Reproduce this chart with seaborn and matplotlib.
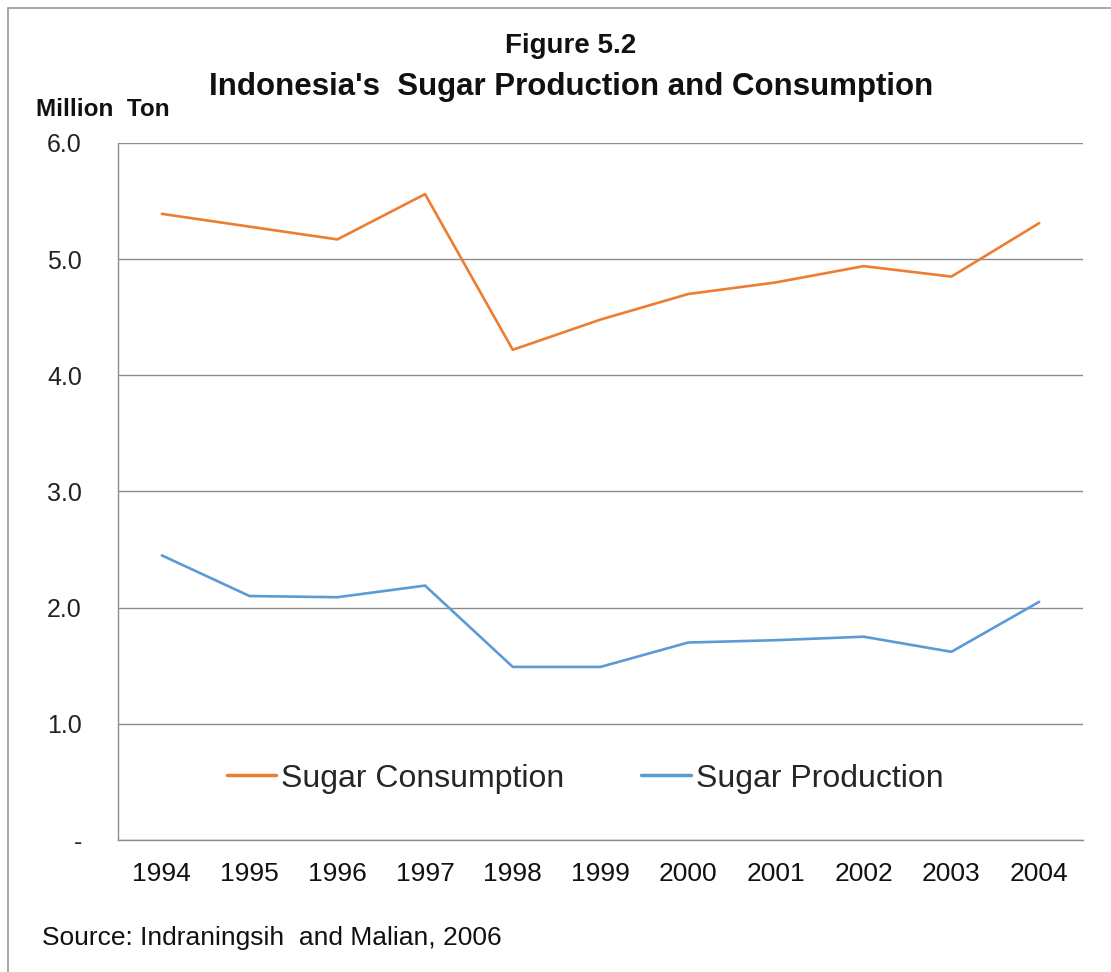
import pandas as pd
import numpy as np
import matplotlib
matplotlib.use("Agg")
import matplotlib.pyplot as plt
from matplotlib.lines import Line2D
import seaborn as sns

# =========================
# DATA
# =========================
years = ["1994", "1995", "1996", "1997", "1998", "1999",
         "2000", "2001", "2002", "2003", "2004"]
consumption = [5.39, 5.28, 5.17, 5.56, 4.22, 4.48, 4.70, 4.80, 4.94, 4.85, 5.31]
production = [2.45, 2.10, 2.09, 2.19, 1.49, 1.49, 1.70, 1.72, 1.75, 1.62, 2.05]
y_ticks = [0, 1, 2, 3, 4, 5, 6]
y_labels = ["-", "1.0", "2.0", "3.0", "4.0", "5.0", "6.0"]

df = pd.DataFrame({
    "pos": list(range(len(years))) * 2,
    "value": consumption + production,
    "series": ["Sugar Consumption"] * len(years) + ["Sugar Production"] * len(years),
})

# =========================
# STYLE
# =========================
sns.set_style("white")
plt.rcParams["font.family"] = ["Liberation Sans", "DejaVu Sans"]

fig = plt.figure(figsize=(11.11, 9.72), dpi=100)
ax = fig.add_axes([118 / 1111, 1 - 840 / 972, (1083 - 118) / 1111, (840 - 143) / 972])

sns.lineplot(
    data=df,
    x="pos",
    y="value",
    hue="series",
    palette={"Sugar Consumption": "#ED7D31", "Sugar Production": "#5B9BD5"},
    linewidth=1.9,
    ax=ax,
)

# =========================
# AXES
# =========================
grid_c = "#8c8c8c"
ax.set_xlim(-0.5, len(years) - 0.5)
ax.set_ylim(0, 6)
ax.set_yticks(y_ticks)
ax.set_yticklabels(y_labels, fontsize=18, color="#222222")
ax.set_xticks(range(len(years)))
ax.set_xticklabels(years, fontsize=19, color="#111111")
ax.set_xticks(np.arange(-0.5, len(years), 1.0), minor=True)
ax.tick_params(axis="x", which="major", length=0, pad=16)
ax.tick_params(axis="x", which="minor", length=7, color=grid_c, width=1, direction="out")
ax.tick_params(axis="y", length=6, color=grid_c, width=1, pad=20)
ax.set_xlabel("")
ax.set_ylabel("")

ax.yaxis.grid(True, color=grid_c, linewidth=1)
ax.set_axisbelow(True)
for s in ["top", "right"]:
    ax.spines[s].set_visible(False)
for s in ["left", "bottom"]:
    ax.spines[s].set_color(grid_c)
    ax.spines[s].set_linewidth(1)

# =========================
# LEGEND
# =========================
leg = ax.legend(
    loc="center",
    bbox_to_anchor=(0.484, 0.088),
    ncol=2,
    frameon=False,
    fontsize=23,
    handlelength=1.55,
    handletextpad=0.15,
    columnspacing=2.4,
)
for h in leg.get_lines():
    h.set_linewidth(2.5)

# =========================
# TEXT
# =========================
fig.text(0.514, 0.953, "Figure 5.2", ha="center", va="center",
         fontsize=20, fontweight="bold", color="#111111")
fig.text(0.514, 0.911, "Indonesia's  Sugar Production and Consumption", ha="center",
         va="center", fontsize=22.5, fontweight="bold", color="#111111")
fig.text(36 / 1111, 1 - 110 / 972, "Million  Ton", ha="left", va="center",
         fontsize=17.5, fontweight="bold", color="#111111")
fig.text(42 / 1111, 1 - 938 / 972, "Source: Indraningsih  and Malian, 2006", ha="left",
         va="center", fontsize=19, color="#111111")

# outer border
fig.add_artist(Line2D([8 / 1111, 8 / 1111], [0, 1 - 8 / 972],
                      transform=fig.transFigure, color="#999999", linewidth=1.2))
fig.add_artist(Line2D([8 / 1111, 1], [1 - 8 / 972, 1 - 8 / 972],
                      transform=fig.transFigure, color="#999999", linewidth=1.2))

fig.savefig("out.png", dpi=100)
